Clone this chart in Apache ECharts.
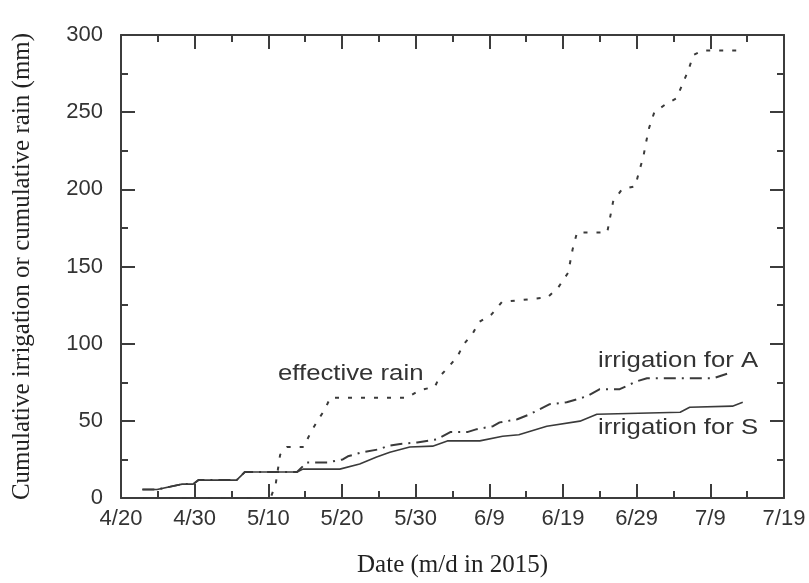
<!DOCTYPE html>
<html>
<head>
<meta charset="utf-8">
<script src="https://cdn.jsdelivr.net/npm/echarts@6/dist/echarts.min.js"></script>
<style>
  html, body { margin: 0; padding: 0; background: #fff; }
  #container { width: 809px; height: 583px; }
</style>
</head>
<body>
<div id="container"></div>
<script>
  // days counted from 4/20/2015
  var xTickLabels = ['4/20', '4/30', '5/10', '5/20', '5/30', '6/9', '6/19', '6/29', '7/9', '7/19'];

  var rainDays = [3, 20.3, 21, 21.6, 22.5, 24.8, 25.8, 26.8, 27.7, 28.4, 38.8, 40.6, 42.6, 43.3, 44.5, 45.7, 46.5, 47.8, 48.6, 50.3, 51.7, 57.9, 59.3, 60.7, 61.3, 61.9, 66, 66.4, 66.8, 68, 69.8, 70.3, 70.9, 71.3, 71.7, 72.4, 73.9, 75.4, 76.3, 77, 77.7, 79, 83.7];
  var rainValues = [0, 0, 9, 28, 33, 33, 43, 51, 57.5, 65, 65, 70, 72, 79, 85, 92, 99.5, 107, 114, 119, 127, 130, 136, 146, 161, 172, 172, 182, 192, 200, 202, 211, 221, 231, 240, 250, 255, 259, 269, 277, 287, 290, 290];

  var irrADays = [2.9, 4.9, 8.3, 9.8, 10.5, 15.7, 16.8, 23.9, 25.2, 28, 30.1, 30.8, 32.8, 35.2, 36.1, 37.9, 40.2, 42.9, 44.7, 47, 48.3, 50.5, 51.4, 53.8, 55.5, 58.2, 60.5, 63.3, 65, 67.7, 70, 71.4, 80.4, 82.9];
  var irrAValues = [5.5, 5.5, 9, 9, 11.6, 11.6, 16.8, 16.8, 23, 23, 25, 27, 29.7, 31.7, 33.6, 35, 36, 38, 42.7, 42.7, 44.6, 46.5, 49, 51, 54.3, 60.8, 62, 66, 70.5, 70.5, 75.6, 77.6, 77.6, 81.5];

  var irrSDays = [2.9, 4.9, 8.3, 9.8, 10.5, 15.7, 16.8, 23.9, 24.7, 29.7, 32.4, 34.7, 36.5, 39.2, 42.3, 44.3, 48.7, 51.8, 54, 57.8, 62.3, 64.6, 75.9, 77.2, 83, 84.4];
  var irrSValues = [5.5, 5.5, 9, 9, 11.6, 11.6, 16.8, 16.8, 18.7, 18.7, 22, 26.5, 29.7, 33, 33.6, 37, 37, 40, 41, 46.5, 49.8, 54.3, 55.6, 58.8, 59.5, 62];

  function pairs(xs, ys) {
    return xs.map(function (x, i) { return [x, ys[i]]; });
  }

  var lineColor = '#3a3a3a';
  var axisColor = '#3c3c3c';

  var dom = document.getElementById('container');
  var myChart = echarts.init(dom);
  var option = {
    animation: false,
    backgroundColor: '#fff',
    grid: {
      left: 121,
      right: 25,
      top: 35,
      bottom: 84
    },
    xAxis: [
      {
        type: 'value',
        min: 0,
        max: 90,
        interval: 10,
        name: 'Date (m/d in 2015)',
        nameLocation: 'middle',
        nameGap: 55,
        nameTextStyle: {
          fontFamily: 'Liberation Serif',
          fontSize: 25,
          color: '#222'
        },
        axisLine: { show: true, onZero: false, lineStyle: { color: axisColor, width: 2 } },
        axisTick: { show: true, inside: true, length: 14, lineStyle: { color: axisColor, width: 2 } },
        minorTick: { show: true, splitNumber: 2, length: 7, lineStyle: { color: axisColor, width: 2 } },
        splitLine: { show: false },
        axisLabel: {
          margin: 10,
          fontFamily: 'Liberation Sans',
          fontSize: 22,
          color: '#333',
          formatter: function (v) { return xTickLabels[Math.round(v / 10)]; }
        }
      },
      {
        type: 'value',
        position: 'top',
        min: 0,
        max: 90,
        interval: 10,
        axisLine: { show: true, onZero: false, lineStyle: { color: axisColor, width: 2 } },
        axisTick: { show: true, inside: true, length: 14, lineStyle: { color: axisColor, width: 2 } },
        minorTick: { show: true, splitNumber: 2, length: 7, lineStyle: { color: axisColor, width: 2 } },
        splitLine: { show: false },
        axisLabel: { show: false }
      }
    ],
    yAxis: [
      {
        type: 'value',
        min: 0,
        max: 300,
        interval: 50,
        name: 'Cumulative irrigation or cumulative rain (mm)',
        nameLocation: 'middle',
        nameGap: 86,
        nameTextStyle: {
          fontFamily: 'Liberation Serif',
          fontSize: 25,
          color: '#222'
        },
        axisLine: { show: true, onZero: false, lineStyle: { color: axisColor, width: 2 } },
        axisTick: { show: true, inside: true, length: 14, lineStyle: { color: axisColor, width: 2 } },
        minorTick: { show: true, splitNumber: 2, length: 7, lineStyle: { color: axisColor, width: 2 } },
        splitLine: { show: false },
        axisLabel: {
          margin: 18,
          fontFamily: 'Liberation Sans',
          fontSize: 22,
          color: '#333'
        }
      },
      {
        type: 'value',
        position: 'right',
        min: 0,
        max: 300,
        interval: 50,
        axisLine: { show: true, onZero: false, lineStyle: { color: axisColor, width: 2 } },
        axisTick: { show: true, inside: true, length: 14, lineStyle: { color: axisColor, width: 2 } },
        minorTick: { show: true, splitNumber: 2, length: 7, lineStyle: { color: axisColor, width: 2 } },
        splitLine: { show: false },
        axisLabel: { show: false }
      }
    ],
    // curve labels, the source text is a bit wider than Arial so stretch it
    graphic: [
      {
        type: 'text',
        left: 278,
        top: 363,
        scaleX: 1.17,
        style: { text: 'effective rain', font: '22px "Liberation Sans"', fill: '#333' }
      },
      {
        type: 'text',
        left: 598,
        top: 350,
        scaleX: 1.17,
        style: { text: 'irrigation for A', font: '22px "Liberation Sans"', fill: '#333' }
      },
      {
        type: 'text',
        left: 598,
        top: 417,
        scaleX: 1.17,
        style: { text: 'irrigation for S', font: '22px "Liberation Sans"', fill: '#333' }
      }
    ],
    series: [
      {
        name: 'effective rain',
        type: 'line',
        symbol: 'none',
        data: pairs(rainDays, rainValues),
        lineStyle: { color: lineColor, width: 2, type: [4, 9] }
      },
      {
        name: 'irrigation for A',
        type: 'line',
        symbol: 'none',
        data: pairs(irrADays, irrAValues),
        lineStyle: { color: lineColor, width: 2, type: [12, 6, 2, 6] }
      },
      {
        name: 'irrigation for S',
        type: 'line',
        symbol: 'none',
        data: pairs(irrSDays, irrSValues),
        lineStyle: { color: lineColor, width: 1.6, type: 'solid' }
      }
    ]
  };
  myChart.setOption(option, true);
</script>
</body>
</html>
